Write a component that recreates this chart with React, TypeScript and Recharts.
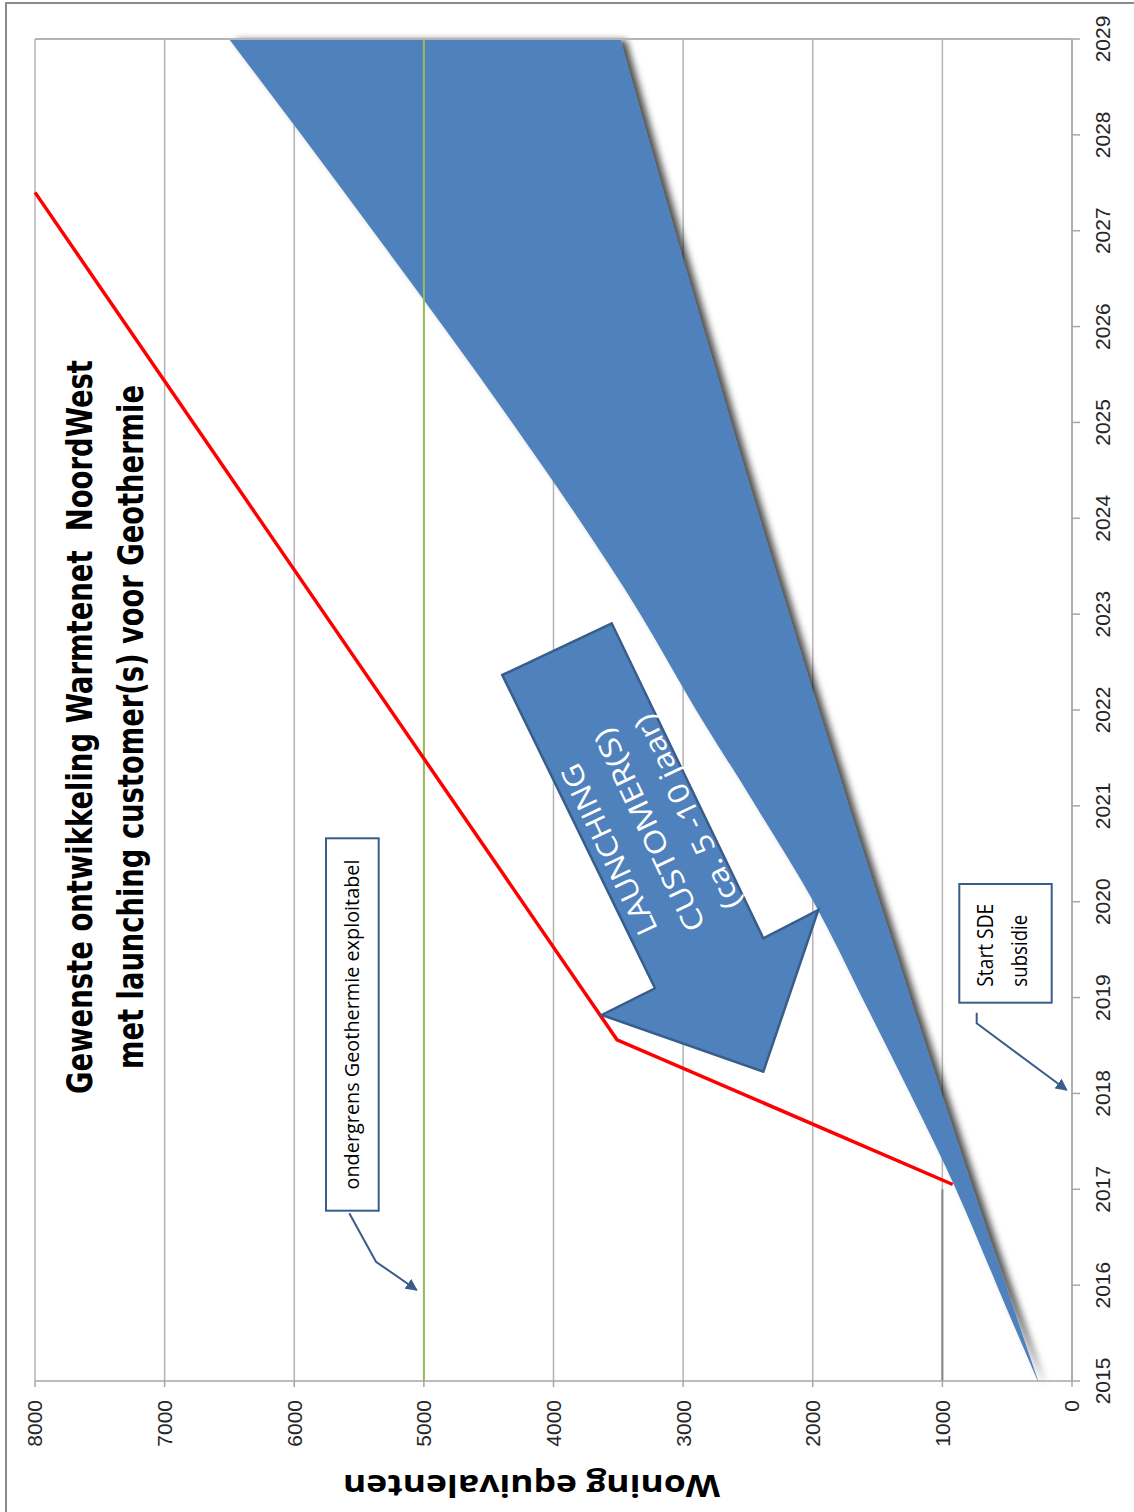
import React from 'react';
import { ComposedChart, Area, Line, XAxis, YAxis, CartesianGrid, ReferenceLine } from 'recharts';

// jaren op de x-as
const years = [2015, 2016, 2017, 2018, 2019, 2020, 2021, 2022, 2023, 2024, 2025, 2026, 2027, 2028, 2029];
// gewenste ontwikkeling: onder- en bovengrens van de band
const bandLow = [260, 512, 761, 1006, 1248, 1486, 1722, 1954, 2183, 2408, 2630, 2849, 3064, 3277, 3485];
const bandHigh = [265, 580, 895, 1250, 1620, 1995, 2440, 2900, 3330, 3810, 4320, 4850, 5395, 5945, 6503];
// launching customer lijn
const launchYears = [2017.05, 2018.56, 2027.4];
const launchValues = [920, 3510, 8000];
// ondergrens geothermie
const thresholdYears = [2015, 2029];
const thresholdValue = 5000;
// startniveau
const baseYears = [2015, 2017];
const baseValue = 1000;
const valueTicks = [0, 1000, 2000, 3000, 4000, 5000, 6000, 7000, 8000];

const bandData = years.map((year, i) => ({ year, band: [bandLow[i], bandHigh[i]] }));
const launchData = launchYears.map((year, i) => ({ year, value: launchValues[i] }));
const thresholdData = thresholdYears.map((year) => ({ year, value: thresholdValue }));
const baseData = baseYears.map((year) => ({ year, value: baseValue }));

const W = 1512;
const H = 1134;
const NAVY = '#385D8A';
const BLUE = '#4F81BD';

function ValueTitle(props: any) {
  const vb = props.viewBox || {};
  const x = (vb.x ?? 0) + 37;
  const cy = vb.y != null ? vb.y + vb.height / 2 - 22 : 533;
  return (
    <text
      x={x}
      y={cy}
      transform={`rotate(-90, ${x}, ${cy})`}
      textAnchor="middle"
      fontSize={30}
      fontWeight="bold"
      fontFamily="'Open Sans', 'Liberation Sans', sans-serif"
      fill="#000"
      textLength={377}
      lengthAdjust="spacingAndGlyphs"
    >
      Woning equivalenten
    </text>
  );
}

function Annotations() {
  const txt = "'Open Sans', 'Liberation Sans', sans-serif";
  return (
    <svg width={W} height={H} style={{ position: 'absolute', left: 0, top: 0, pointerEvents: 'none' }}>
      <defs>
        <filter id="bandShadow" x="-10%" y="-10%" width="120%" height="120%">
          <feDropShadow dx="-1" dy="6" stdDeviation="3.5" floodColor="#000" floodOpacity="0.7" />
        </filter>
        <marker id="calloutHead" viewBox="0 0 10 10" refX="9" refY="5" markerWidth="6" markerHeight="6" orient="auto">
          <path d="M0,0 L10,5 L0,10 z" fill={NAVY} />
        </marker>
      </defs>

      {/* titel */}
      <g fontFamily="'DejaVu Sans Condensed', 'Liberation Sans Narrow', sans-serif" fontWeight="bold" fontSize={35} fill="#000">
        <text x={785} y={92} textAnchor="middle" textLength={734} lengthAdjust="spacingAndGlyphs" style={{ whiteSpace: 'pre' }}>
          Gewenste ontwikkeling Warmtenet  NoordWest
        </text>
        <text x={785} y={143} textAnchor="middle" textLength={684} lengthAdjust="spacingAndGlyphs">
          met launching customer(s) voor Geothermie
        </text>
      </g>

      {/* blokpijl launching customers */}
      <polygon
        points="837,502.3 888.7,611.7 573.7,763.3 602,818.3 440.3,763.3 497,601.7 523.7,655"
        fill={BLUE}
        stroke={NAVY}
        strokeWidth={2.5}
      />
      <g transform="translate(683.7,653.3) rotate(-25.5)" fill="#fff" fontFamily={txt} fontSize={29} textAnchor="middle">
        <text x={0} y={-39} textLength={186} lengthAdjust="spacingAndGlyphs">LAUNCHING</text>
        <text x={0} y={6} textLength={221} lengthAdjust="spacingAndGlyphs">CUSTOMER(S)</text>
        <text x={0} y={48} textLength={212} lengthAdjust="spacingAndGlyphs" style={{ whiteSpace: 'pre' }}>(ca. 5 -10 jaar)</text>
      </g>

      {/* ondergrens */}
      <rect x={301.3} y={326} width={372.4} height={52.7} fill="#fff" stroke={NAVY} strokeWidth={2} />
      <text x={487.5} y={359} textAnchor="middle" fontFamily={txt} fontSize={20} fill="#000" textLength={330} lengthAdjust="spacingAndGlyphs">
        ondergrens Geothermie exploitabel
      </text>
      <polyline points="298.7,349.3 250.3,376 222,416.7" fill="none" stroke={NAVY} strokeWidth={2} markerEnd="url(#calloutHead)" />

      {/* start SDE */}
      <rect x={509.3} y={959.3} width={118.7} height={92.4} fill="#fff" stroke={NAVY} strokeWidth={2} />
      <g fontFamily={txt} fontSize={21} fill="#000">
        <text x={525.3} y={993.3} textLength={83} lengthAdjust="spacingAndGlyphs">Start SDE</text>
        <text x={525.3} y={1026.7} textLength={72} lengthAdjust="spacingAndGlyphs">subsidie</text>
      </g>
      <polyline points="499.3,976.7 488.7,976.7 422,1066.7" fill="none" stroke={NAVY} strokeWidth={2} markerEnd="url(#calloutHead)" />
    </svg>
  );
}

export default function App() {
  return (
    <div style={{ position: 'absolute', left: 0, top: 0, width: 1134, height: 1512, overflow: 'hidden', background: '#fff' }}>
      <style>{`.recharts-area { filter: url(#bandShadow); }`}</style>
      <div
        style={{
          position: 'absolute',
          left: 5,
          top: 2,
          width: 1127,
          height: 1508,
          borderLeft: '2px solid #8a8a8a',
          borderTop: '2px solid #8a8a8a',
        }}
      />
      <div
        style={{
          position: 'absolute',
          left: 0,
          top: 0,
          width: W,
          height: H,
          transformOrigin: '0 0',
          transform: `translate(0px, ${W}px) rotate(-90deg)`,
          fontFamily: "'Liberation Sans Narrow', 'Liberation Sans', sans-serif",
        }}
      >
        <ComposedChart width={W} height={H} data={bandData} margin={{ top: 35, right: 39, bottom: 1, left: 0 }}>
          <CartesianGrid vertical={false} stroke="#b4b4b4" strokeWidth={1.5} />
          <XAxis
            type="number"
            dataKey="year"
            domain={[2015, 2029]}
            ticks={years}
            height={61}
            tickSize={8}
            tickMargin={15}
            axisLine={{ stroke: '#a6a6a6', strokeWidth: 1.5 }}
            tickLine={{ stroke: '#a6a6a6', strokeWidth: 1.5 }}
            tick={{ fontSize: 21, fill: '#262626' }}
          />
          <YAxis
            type="number"
            domain={[0, 8000]}
            ticks={valueTicks}
            width={131}
            tickSize={6}
            tickMargin={13}
            axisLine={{ stroke: '#a6a6a6', strokeWidth: 1.5 }}
            tickLine={{ stroke: '#a6a6a6', strokeWidth: 1.5 }}
            tick={{ fontSize: 21, fill: '#262626' }}
            label={<ValueTitle />}
          />
          <ReferenceLine x={2029} stroke="#b4b4b4" strokeWidth={2} />
          <Area
            dataKey="band"
            type="monotone"
            fill={BLUE}
            fillOpacity={1}
            stroke="none"
            isAnimationActive={false}
          />
          <Line data={baseData} dataKey="value" type="linear" stroke="#868686" strokeWidth={2} dot={false} isAnimationActive={false} />
          <Line data={thresholdData} dataKey="value" type="linear" stroke="#9BBB59" strokeWidth={2} dot={false} isAnimationActive={false} />
          <Line data={launchData} dataKey="value" type="linear" stroke="#FF0000" strokeWidth={3.5} dot={false} isAnimationActive={false} />
        </ComposedChart>
        <Annotations />
      </div>
    </div>
  );
}
